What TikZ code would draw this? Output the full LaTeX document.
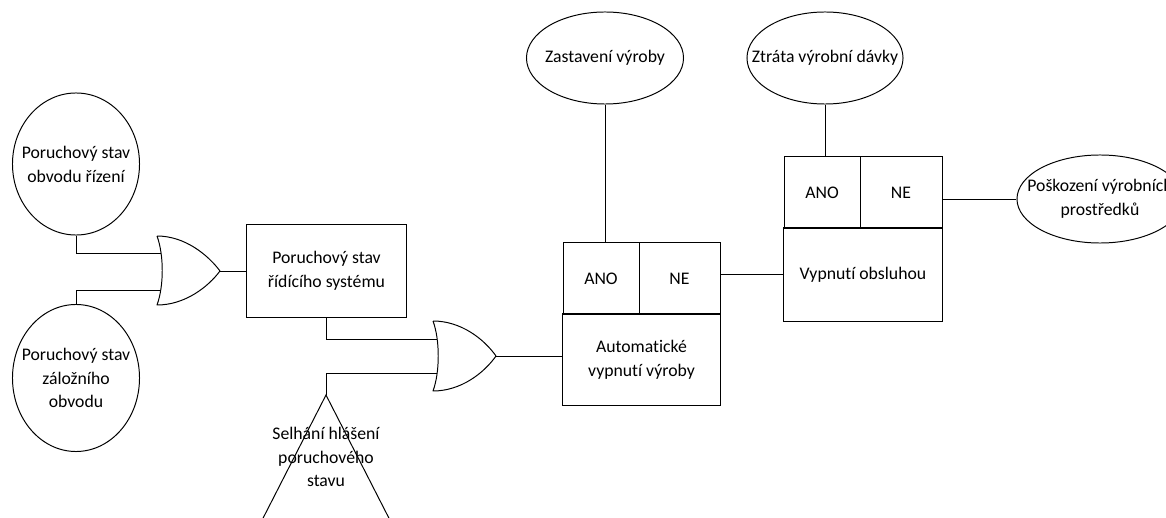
\documentclass[tikz,border=0pt]{standalone}
\usepackage{fontspec}
\setmainfont{Carlito}[Ligatures=NoCommon]
\usetikzlibrary{shapes.geometric}
\begin{document}
\begin{tikzpicture}[x=0.025cm, y=-0.025cm, line width=0.7pt,
  every node/.style={font=\fontsize{12.6}{17}\selectfont, align=center, inner sep=0pt},
  event/.style={draw, ellipse},
  box/.style={draw, rectangle},
  gate/.style={draw, line join=round}]
\useasboundingbox (0,0) rectangle (1166,518);
\clip (0,0) rectangle (1166,518);

% basic events on the left
\node[event, minimum width=3.175cm, minimum height=3.55cm] (e1) at (76,164) {};
\node at (e1) {Poruchový stav\\obvodu řízení};
\node[event, minimum width=3.175cm, minimum height=3.675cm] (e2) at (76,378) {};
\node at (e2) {Poruchový stav\\záložního\\obvodu};

% first OR gate
\coordinate (g1t) at (157,236);
\coordinate (g1b) at (157,305);
\coordinate (g1o) at (220,271);
\coordinate (g1a) at (161,253);
\coordinate (g1c) at (161,290);
\draw[gate] (g1t) .. controls (164,255) and (164,286) .. (g1b)
  .. controls (185,305) and (208,287) .. (g1o)
  .. controls (208,255) and (185,236) .. (g1t);

% control system failure
\node[box, minimum width=3.975cm, minimum height=2.3cm] (s1) at (326.5,271) {Poruchový stav\\řídícího systému};

% second OR gate
\coordinate (g2t) at (433,321);
\coordinate (g2b) at (433,391);
\coordinate (g2o) at (496,356);
\coordinate (g2a) at (437,339);
\coordinate (g2c) at (437,373);
\draw[gate] (g2t) .. controls (440,340) and (440,372) .. (g2b)
  .. controls (461,391) and (484,373) .. (g2o)
  .. controls (484,339) and (461,321) .. (g2t);

% undeveloped event (triangle)
\coordinate (tri) at (326,395);
\draw (257,530) -- (tri) -- (395,530);
\node (trit) at (326,457) {Selhání hlášení\\poruchového\\stavu};

% automatic shutdown
\node[box, minimum width=1.9cm, minimum height=1.775cm] (ano1) at (601,278.5) {ANO};
\node[box, minimum width=2.025cm, minimum height=1.775cm] (ne1) at (679.5,278.5) {NE};
\node[box, minimum width=3.925cm, minimum height=2.275cm] (d1) at (641.5,359.5) {Automatické\\vypnutí výroby};

% operator shutdown
\node[box, minimum width=1.9cm, minimum height=1.775cm] (ano2) at (822,192.5) {ANO};
\node[box, minimum width=2.05cm, minimum height=1.775cm] (ne2) at (901,192.5) {NE};
\node[box, minimum width=3.95cm, minimum height=2.325cm] (d2) at (863,274.5) {Vypnutí obsluhou};

% consequences
\node[event, minimum width=3.925cm, minimum height=2.3cm] (z1) at (605,58) {};
\node at (z1) {Zastavení výroby};
\node[event, minimum width=3.9cm, minimum height=2.3cm] (z2) at (825,58) {};
\node at (z2) {Ztráta výrobní dávky};
\node[event, minimum width=4.15cm, minimum height=2.2cm] (z3) at (1100,199) {};
\node at (z3) {Poškození výrobních\\prostředků};

% connectors
\draw (e1.south) |- (g1a);
\draw (e2.north) |- (g1c);
\draw (g1o) -- (s1.west);
\draw (s1.south) |- (g2a);
\draw (tri) |- (g2c);
\draw (g2o) -- (g2o -| d1.west);
\draw (z1.south) -- (z1.south |- ano1.north);
\draw (ne1.east |- d2.west) -- (d2.west);
\draw (z2.south) -- (z2.south |- ano2.north);
\draw (ne2.east |- z3.west) -- (z3.west);
\end{tikzpicture}
\end{document}
